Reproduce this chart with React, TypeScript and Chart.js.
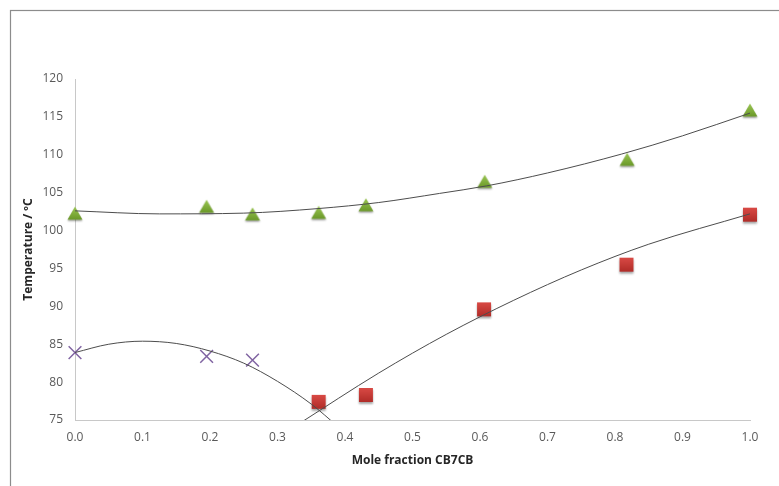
import React, { useEffect, useRef } from "react";
import { Chart, registerables } from "chart.js";

Chart.register(...registerables);

// Measured points
const greenX = [0, 0.195, 0.263, 0.361, 0.431, 0.607, 0.818, 1.0];
const greenY = [102.3, 103.2, 102.2, 102.4, 103.4, 106.5, 109.4, 115.9];

const redX = [0.361, 0.431, 0.606, 0.817, 1.0];
const redY = [77.4, 78.3, 89.6, 95.5, 102.1];

const purpleX = [0, 0.195, 0.263];
const purpleY = [83.9, 83.4, 82.9];

// Trend lines
const greenTrendX = [0, 0.125, 0.25, 0.36, 0.45, 0.54, 0.61, 0.7, 0.81, 0.9, 1.0];
const greenTrendY = [102.6, 102.2, 102.3, 102.9, 103.7, 104.9, 105.9, 107.6, 110.1, 112.5, 115.5];

const purpleTrendX = [0, 0.05, 0.1, 0.15, 0.2, 0.25, 0.3, 0.35, 0.39];
const purpleTrendY = [83.9, 85.0, 85.4, 85.1, 84.1, 82.5, 80.1, 77.1, 74.1];

const redTrendX = [0.33, 0.45, 0.55, 0.65, 0.75, 0.85, 1.0];
const redTrendY = [74.4, 81.2, 86.3, 90.8, 94.8, 98.2, 102.2];

const yTicks = [75, 80, 85, 90, 95, 100, 105, 110, 115, 120];

const xTitle = "Mole fraction CB7CB";
const yTitle = "Temperature / ºC";

const zip = (xs: number[], ys: number[]) => xs.map((x, i) => ({ x, y: ys[i] }));

function makeMarker(kind: "triangle" | "square"): HTMLCanvasElement {
  const c = document.createElement("canvas");
  c.width = 22;
  c.height = 22;
  const ctx = c.getContext("2d")!;
  ctx.shadowColor = "rgba(0,0,0,0.35)";
  ctx.shadowBlur = 2;
  ctx.shadowOffsetY = 1.5;
  if (kind === "triangle") {
    const g = ctx.createLinearGradient(0, 4, 0, 17);
    g.addColorStop(0, "#9cc853");
    g.addColorStop(1, "#6c9a2a");
    ctx.fillStyle = g;
    ctx.beginPath();
    ctx.moveTo(11, 4.5);
    ctx.lineTo(18.5, 17.5);
    ctx.lineTo(3.5, 17.5);
    ctx.closePath();
    ctx.fill();
  } else {
    const g = ctx.createLinearGradient(0, 4, 0, 18);
    g.addColorStop(0, "#d94a45");
    g.addColorStop(1, "#b02c28");
    ctx.fillStyle = g;
    ctx.fillRect(4, 4, 14, 14);
  }
  return c;
}

const framePlugin = {
  id: "frame",
  beforeDraw(chart: any) {
    const ctx = chart.ctx;
    ctx.save();
    ctx.fillStyle = "#ffffff";
    ctx.fillRect(0, 0, chart.width, chart.height);
    ctx.strokeStyle = "#8c8c8c";
    ctx.lineWidth = 1.2;
    ctx.strokeRect(10.5, 10.5, 900, 600);
    ctx.restore();
  },
};

export default function App() {
  const ref = useRef<HTMLCanvasElement | null>(null);

  useEffect(() => {
    if (!ref.current) return;
    const tri = makeMarker("triangle");
    const sq = makeMarker("square");
    const tickFont = { family: "'Open Sans', 'Liberation Sans', sans-serif", size: 12 };
    const titleFont = { family: "'Open Sans', 'Liberation Sans', sans-serif", size: 12, weight: "bold" as const };

    const trend = (xs: number[], ys: number[]) => ({
      type: "line" as const,
      data: zip(xs, ys),
      showLine: true,
      borderColor: "#4d4d4d",
      borderWidth: 1,
      pointRadius: 0,
      cubicInterpolationMode: "monotone" as const,
      fill: false,
      order: 0,
    });

    const chart = new Chart(ref.current, {
      type: "scatter",
      data: {
        datasets: [
          trend(greenTrendX, greenTrendY),
          trend(purpleTrendX, purpleTrendY),
          trend(redTrendX, redTrendY),
          {
            data: zip(greenX, greenY),
            pointStyle: tri,
            pointRadius: 9,
            clip: false,
            order: 1,
          } as any,
          {
            data: zip(redX, redY),
            pointStyle: sq,
            pointRadius: 9,
            clip: false,
            order: 1,
          } as any,
          {
            data: zip(purpleX, purpleY),
            pointStyle: "crossRot",
            pointRadius: 9,
            borderColor: "#8064a2",
            backgroundColor: "#8064a2",
            borderWidth: 1.5,
            clip: false,
            order: 1,
          } as any,
        ],
      },
      options: {
        animation: false,
        responsive: false,
        maintainAspectRatio: false,
        layout: { padding: { top: 79, right: 29, left: 0, bottom: 0 } },
        plugins: { legend: { display: false }, tooltip: { enabled: false } },
        scales: {
          x: {
            type: "linear",
            min: 0,
            max: 1,
            grid: { display: false, drawTicks: false },
            border: { display: true, color: "#c8c8c8", width: 1 },
            ticks: {
              stepSize: 0.1,
              padding: 10,
              color: "#595959",
              font: tickFont,
              callback: (v: any) => Number(v).toFixed(1),
              maxRotation: 0,
            },
            title: {
              display: true,
              text: xTitle,
              color: "#262626",
              font: titleFont,
              padding: { top: 0, bottom: 18 },
            },
            afterFit: (s: any) => {
              s.height = 66;
            },
          },
          y: {
            type: "linear",
            min: 75,
            max: 120,
            grid: { display: false, drawTicks: false },
            border: { display: true, color: "#c8c8c8", width: 1 },
            afterBuildTicks: (s: any) => {
              s.ticks = yTicks.map((v) => ({ value: v }));
            },
            ticks: {
              stepSize: 5,
              padding: 12,
              color: "#595959",
              font: tickFont,
            },
            title: {
              display: true,
              text: yTitle,
              color: "#262626",
              font: titleFont,
              padding: { top: 21, bottom: 0 },
            },
            afterFit: (s: any) => {
              s.width = 75;
            },
          },
        },
      },
      plugins: [framePlugin],
    } as any);
    return () => chart.destroy();
  }, []);

  return (
    <div style={{ position: "absolute", left: 0, top: 0, width: 779, height: 486, background: "#fff" }}>
      <canvas ref={ref} width={779} height={486} style={{ display: "block", width: 779, height: 486 }} />
    </div>
  );
}
